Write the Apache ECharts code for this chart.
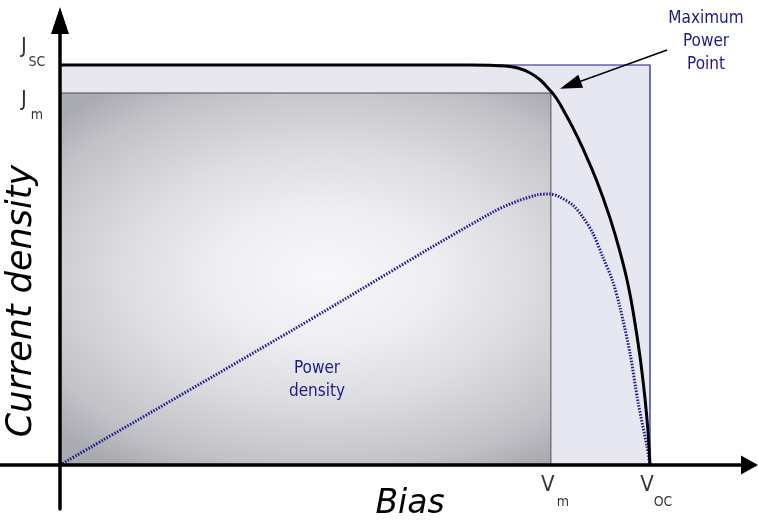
<!DOCTYPE html>
<html>
<head>
<meta charset="utf-8">
<script src="https://cdn.jsdelivr.net/npm/echarts@6/dist/echarts.min.js"></script>
<style>
  html, body { margin: 0; padding: 0; background: #ffffff; }
  #chart { width: 758px; height: 523px; }
</style>
</head>
<body>
<div id="chart"></div>
<script>
// Characteristic points of the cell (bias normalised to V_oc, current density to J_sc)
const V_OC = 1.0;
const V_M = 0.832;
const J_SC = 1.0;
const J_M = 0.93;

// Current density versus bias
const jvBias =    [0, 0.695, 0.729, 0.754, 0.776, 0.797, 0.814, 0.827, 0.841, 0.854, 0.868, 0.886, 0.910, 0.932, 0.949, 0.963, 0.973, 0.983, 0.9915, 0.9966, 1.0];
const jvCurrent = [1.0, 1.0, 0.99925, 0.9975, 0.9925, 0.98, 0.9625, 0.9425, 0.9175, 0.885, 0.847, 0.792, 0.7095, 0.6185, 0.5335, 0.4495, 0.369, 0.2715, 0.1665, 0.084, 0];

// Power density versus bias (same vertical scale)
const pBias =    [0, 0.395, 0.734, 0.808, 0.831, 0.847, 0.869, 0.886, 0.903, 0.920, 0.936, 0.949, 0.966, 0.980, 0.995, 1.0];
const pDensity = [0, 0.338, 0.6325, 0.675, 0.6775, 0.67, 0.65, 0.62, 0.58, 0.52, 0.4625, 0.395, 0.28, 0.155, 0.045, 0];

// Level labels on the axes
const yMarkValues = [J_SC, J_M];
const yMarkMain = ['J', 'J'];
const yMarkSub = ['SC', 'm'];
const xMarkValues = [V_M, V_OC];
const xMarkMain = ['V', 'V'];
const xMarkSub = ['m', 'OC'];

const NAVY = '#1b1b8c';
const TEXT_FONT = "'DejaVu Sans Condensed', 'DejaVu Sans', 'Noto Sans', sans-serif";
const TITLE_FONT = "'DejaVu Sans', 'Noto Sans', sans-serif";

const chart = echarts.init(document.getElementById('chart'), null, { renderer: 'canvas' });

function zip(a, b) { return a.map((v, i) => [v, b[i]]); }

// Rectangles V_oc x J_sc (light) and V_m x J_m (shaded)
function renderLightRect(params, api) {
  const p0 = api.coord([0, 0]);
  const p1 = api.coord([api.value(0), api.value(1)]);
  return {
    type: 'rect',
    shape: { x: p0[0], y: p1[1], width: p1[0] - p0[0], height: p0[1] - p1[1] },
    style: { fill: '#e7e7f2', stroke: NAVY, lineWidth: 1.2 }
  };
}

const SHADE_ASPECT = 0.62; // vertical / horizontal radius of the shading ellipse

function renderShadedRect(params, api) {
  const p0 = api.coord([0, 0]);
  const p1 = api.coord([api.value(0), api.value(1)]);
  const w = p1[0] - p0[0];
  const h = p0[1] - p1[1];
  return {
    type: 'group',
    children: [
      {
        // rect drawn taller and squashed so the radial shading becomes an ellipse
        type: 'rect',
        shape: { x: p0[0], y: p1[1], width: w, height: h / SHADE_ASPECT },
        originX: p0[0], originY: p1[1],
        scaleY: SHADE_ASPECT,
        style: {
          fill: {
            type: 'radial', x: 0.54, y: 0.49, r: 0.75,
            colorStops: [
              { offset: 0, color: '#f8f8fb' },
              { offset: 0.3, color: '#eeeef2' },
              { offset: 0.55, color: '#dcdce1' },
              { offset: 0.72, color: '#cdcdd2' },
              { offset: 0.85, color: '#c1c1c7' },
              { offset: 1, color: '#aaabb1' }
            ]
          }
        }
      },
      {
        type: 'rect',
        shape: { x: p0[0], y: p1[1], width: w, height: h },
        style: { fill: 'none', stroke: '#4d4d52', lineWidth: 1 }
      }
    ]
  };
}

function levelLabel(value, text, dx, dy, size) {
  return {
    value: value,
    label: { formatter: text, offset: [dx, dy], fontSize: size }
  };
}

const labelData = [];
yMarkValues.forEach((v, i) => {
  const mainDy = i === 0 ? -18 : 7;
  const subDy = i === 0 ? -3 : 22;
  labelData.push(levelLabel([0, v], yMarkMain[i], -36, mainDy, 22));
  labelData.push(levelLabel([0, v], yMarkSub[i], -23, subDy, 14));
});
xMarkValues.forEach((v, i) => {
  labelData.push(levelLabel([v, 0], xMarkMain[i], -3, 20, 22));
  labelData.push(levelLabel([v, 0], xMarkSub[i], i === 0 ? 12 : 13, 37, 14));
});

const option = {
  animation: false,
  grid: { left: 0, right: 8.5, top: 20.5, bottom: 14, containLabel: false },
  xAxis: {
    type: 'value',
    min: -0.10169, max: 1.16864,
    z: 10,
    axisLine: {
      onZero: true,
      symbol: ['none', 'triangle'],
      symbolSize: [19, 17],
      lineStyle: { color: '#000', width: 3.5 }
    },
    axisTick: { show: false },
    axisLabel: { show: false },
    splitLine: { show: false }
  },
  yAxis: {
    type: 'value',
    min: -0.11, max: 1.11125,
    z: 10,
    axisLine: {
      onZero: true,
      symbol: ['none', 'triangle'],
      symbolSize: [18, 27],
      lineStyle: { color: '#000', width: 3.5 }
    },
    axisTick: { show: false },
    axisLabel: { show: false },
    splitLine: { show: false }
  },
  series: [
    {
      type: 'custom',
      name: 'Voc x Jsc',
      z: 1,
      silent: true,
      renderItem: renderLightRect,
      data: [[V_OC, J_SC]]
    },
    {
      type: 'custom',
      name: 'Vm x Jm',
      z: 2,
      silent: true,
      renderItem: renderShadedRect,
      data: [[V_M, J_M]]
    },
    {
      type: 'line',
      name: 'Power density',
      z: 3,
      data: zip(pBias, pDensity),
      smooth: 0.3,
      showSymbol: false,
      lineStyle: { color: NAVY, width: 3, type: [1.5, 1.5] }
    },
    {
      type: 'line',
      name: 'Current density',
      z: 4,
      data: zip(jvBias, jvCurrent),
      smooth: 0.45,
      showSymbol: false,
      lineStyle: { color: '#000', width: 3 },
      markLine: {
        silent: true,
        animation: false,
        label: { show: false },
        lineStyle: { color: '#000', width: 1.5, type: 'solid' },
        data: [[
          { coord: [1.029, 1.0375], symbol: 'none' },
          { coord: [0.865, 0.95], symbol: 'triangle', symbolSize: [14, 22] }
        ]]
      }
    },
    {
      type: 'scatter',
      name: 'levels',
      z: 5,
      silent: true,
      symbolSize: 0,
      data: labelData,
      label: {
        show: true,
        position: 'inside',
        align: 'center',
        verticalAlign: 'middle',
        color: '#000',
        fontFamily: TEXT_FONT
      }
    }
  ],
  graphic: [
    {
      type: 'text', x: 706, y: 42, z: 20,
      style: {
        text: 'Maximum\nPower\nPoint', fill: NAVY,
        font: '17px ' + TEXT_FONT, lineHeight: 23,
        align: 'center', verticalAlign: 'middle'
      }
    },
    {
      type: 'text', x: 317, y: 380, z: 20,
      style: {
        text: 'Power\ndensity', fill: NAVY,
        font: '17px ' + TEXT_FONT, lineHeight: 23,
        align: 'center', verticalAlign: 'middle'
      }
    },
    {
      type: 'text', x: 22, y: 301, z: 20, rotation: Math.PI / 2,
      style: {
        text: 'Current density', fill: '#000',
        font: 'italic 35px ' + TITLE_FONT,
        align: 'center', verticalAlign: 'middle'
      }
    },
    {
      type: 'text', x: 410, y: 504, z: 20,
      style: {
        text: 'Bias', fill: '#000',
        font: 'italic 33px ' + TITLE_FONT,
        align: 'center', verticalAlign: 'middle'
      }
    }
  ]
};

chart.setOption(option);
</script>
</body>
</html>
